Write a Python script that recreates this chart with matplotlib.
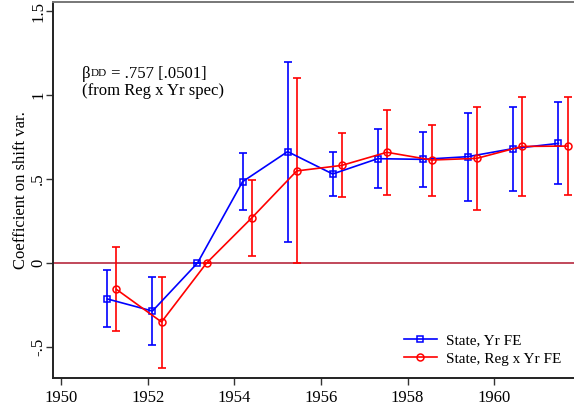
import matplotlib.pyplot as plt
from matplotlib.transforms import offset_copy

# Event-study coefficients
blue_x = [1951.07, 1952.11, 1953.15, 1954.19, 1955.23, 1956.27, 1957.31, 1958.35, 1959.39, 1960.43, 1961.48]
blue_y = [-0.214, -0.286, 0.0, 0.484, 0.663, 0.530, 0.621, 0.617, 0.633, 0.681, 0.712]
blue_lo = [-0.381, -0.486, 0.0, 0.313, 0.127, 0.399, 0.448, 0.454, 0.367, 0.431, 0.470]
blue_hi = [-0.044, -0.083, 0.0, 0.657, 1.196, 0.663, 0.796, 0.782, 0.895, 0.929, 0.956]

red_x = [1951.28, 1952.32, 1953.36, 1954.40, 1955.44, 1956.48, 1957.52, 1958.56, 1959.60, 1960.64, 1961.69]
red_y = [-0.157, -0.351, 0.0, 0.268, 0.548, 0.581, 0.659, 0.613, 0.623, 0.694, 0.696]
red_lo = [-0.403, -0.625, 0.0, 0.042, -0.002, 0.391, 0.407, 0.401, 0.317, 0.399, 0.405]
red_hi = [0.093, -0.081, 0.0, 0.494, 1.103, 0.776, 0.911, 0.821, 0.929, 0.990, 0.986]

xticks = [1950, 1952, 1954, 1956, 1958, 1960]
yticks = [-0.5, 0, 0.5, 1, 1.5]
ytick_labels = ['-.5', '0', '.5', '1', '1.5']

plt.rcParams['font.family'] = ['Liberation Serif', 'DejaVu Serif']

fig = plt.figure(figsize=(5.74, 4.09), dpi=100)
ax = fig.add_axes([53 / 574, 31 / 409, 1 - 53 / 574, 376 / 409])

ax.axhline(0, color='#b0162e', lw=1.1, zorder=1)

# error bars
ax.errorbar(blue_x, blue_y,
            yerr=[[y - lo for y, lo in zip(blue_y, blue_lo)], [hi - y for y, hi in zip(blue_y, blue_hi)]],
            fmt='none', ecolor='blue', elinewidth=1.2, capsize=2.6, capthick=1.2, zorder=2)
ax.errorbar(red_x, red_y,
            yerr=[[y - lo for y, lo in zip(red_y, red_lo)], [hi - y for y, hi in zip(red_y, red_hi)]],
            fmt='none', ecolor='red', elinewidth=1.2, capsize=2.6, capthick=1.2, zorder=2)

ax.plot(blue_x, blue_y, color='blue', lw=1.2, marker='s', ms=5, mfc='none', mew=1.1,
        label='State, Yr FE', zorder=3)
ax.plot(red_x, red_y, color='red', lw=1.2, marker='o', ms=5, mfc='none', mew=1.1,
        label='State, Reg x Yr FE', zorder=3)

ax.set_xlim(1949.815, 1961.84)
ax.set_ylim(-0.6845, 1.5536)
ax.set_xticks(xticks)
ax.set_yticks(yticks)
ax.set_yticklabels(ytick_labels, rotation=90, va='center')
ax.tick_params(axis='both', direction='out', length=5, width=1, labelsize=12, color='#333333')
ax.tick_params(axis='y', pad=0)
ax.set_ylabel('Coefficient on shift var.', fontsize=12, labelpad=0.5)

ax.spines['right'].set_visible(False)
for s in ['left', 'bottom']:
    ax.spines[s].set_linewidth(1.4)
    ax.spines[s].set_color('#222222')
ax.spines['top'].set_linewidth(1.4)
ax.spines['top'].set_color('#777777')

# beta^DD note: beta, small raised "DD", then the rest (placed piece by piece)
x0, y0 = 0.055, 0.797
t1 = ax.text(x0, y0, 'β', transform=ax.transAxes, fontsize=12, va='baseline', ha='left')
fig.canvas.draw()
r = fig.canvas.get_renderer()
w1 = t1.get_window_extent(r).width * 72 / fig.dpi
t2 = ax.text(x0, y0, 'DD', fontsize=8, va='baseline', ha='left',
             transform=offset_copy(ax.transAxes, fig=fig, x=w1 + 0.3, y=2.0, units='points'))
w2 = t2.get_window_extent(r).width * 72 / fig.dpi
ax.text(x0, y0, ' = .757 [.0501]', fontsize=12, va='baseline', ha='left',
        transform=offset_copy(ax.transAxes, fig=fig, x=w1 + w2 + 0.6, y=0, units='points'))
ax.text(x0, y0, '(from Reg x Yr spec)', fontsize=12, va='baseline', ha='left',
        transform=offset_copy(ax.transAxes, fig=fig, x=0, y=-12, units='points'))

ax.legend(loc='lower right', frameon=False, fontsize=11, handlelength=2.2,
          handletextpad=0.6, labelspacing=0.3, borderaxespad=0.4,
          bbox_to_anchor=(1.0, 0.0))

fig.savefig('out.png', dpi=100)
